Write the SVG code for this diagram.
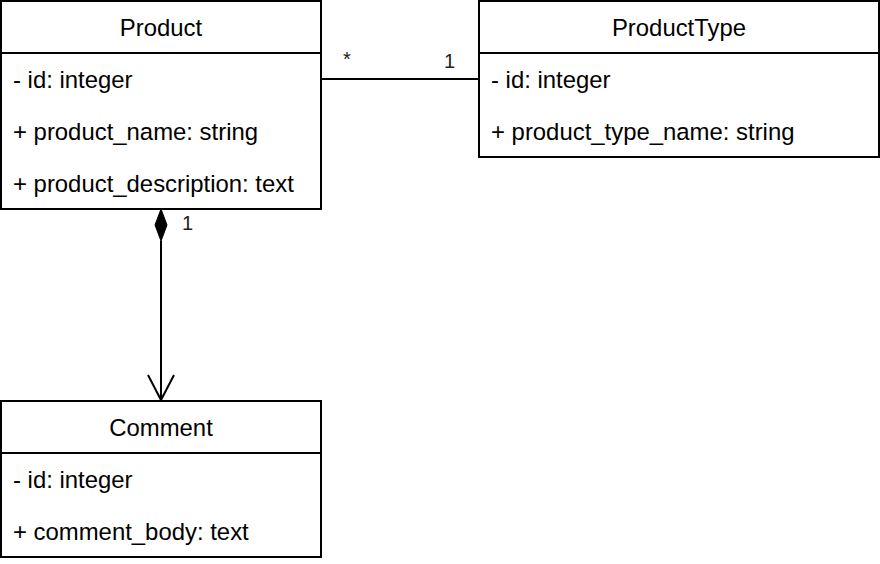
<svg xmlns="http://www.w3.org/2000/svg" width="880" height="564" viewBox="0 0 880 564">
<style>
.box{fill:#fff;stroke:#000;stroke-width:2}
.ln{stroke:#000;stroke-width:2;fill:none}
text{font-family:"Liberation Sans",Arial,sans-serif;font-size:23.9px;fill:#000}
.t{text-anchor:middle}
.lbl{font-size:20px;fill:#222}
</style>
<rect width="880" height="564" fill="#fff"/>
<g id="Product">
<rect class="box" x="1" y="1" width="320" height="208"/>
<line class="ln" x1="1" y1="53" x2="321" y2="53"/>
<text class="t" x="161" y="36">Product</text>
<text x="13" y="88">- id: integer</text>
<text x="13" y="140">+ product_name: string</text>
<text x="13" y="192">+ product_description: text</text>
</g>
<g id="ProductType">
<rect class="box" x="479" y="1" width="400" height="156"/>
<line class="ln" x1="479" y1="53" x2="879" y2="53"/>
<text class="t" x="679" y="36">ProductType</text>
<text x="491" y="88">- id: integer</text>
<text x="491" y="140">+ product_type_name: string</text>
</g>
<g id="Comment">
<rect class="box" x="1" y="401" width="320" height="156"/>
<line class="ln" x1="1" y1="453" x2="321" y2="453"/>
<text class="t" x="161" y="436">Comment</text>
<text x="13" y="488">- id: integer</text>
<text x="13" y="540">+ comment_body: text</text>
</g>
<g id="connectors">
<line class="ln" x1="321" y1="79" x2="479" y2="79"/>
<text class="lbl" x="343" y="66">*</text>
<text class="lbl" x="444" y="68">1</text>
<line class="ln" x1="161" y1="241" x2="161" y2="400"/>
<polygon points="161,209 167,225 161,241 155,225" fill="#000" stroke="#000" stroke-width="1"/>
<polyline class="ln" points="148,375 161,400 174,375"/>
<text class="lbl" x="182" y="230">1</text>
</g>
</svg>
